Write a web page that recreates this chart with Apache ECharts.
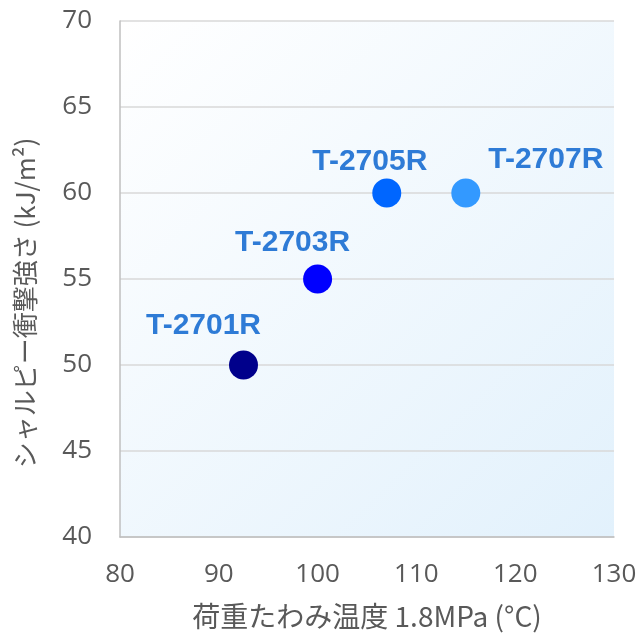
<!DOCTYPE html>
<html>
<head>
<meta charset="utf-8">
<script src="https://cdn.jsdelivr.net/npm/echarts@6/dist/echarts.min.js"></script>
<style>
html,body{margin:0;padding:0;background:#ffffff;}
#chart{width:639px;height:633px;}
</style>
</head>
<body>
<div id="chart"></div>
<script>
// ---- data ----
var gradeNames = ['T-2701R', 'T-2703R', 'T-2705R', 'T-2707R'];
var hdtValues = [92.5, 100, 107, 115];          // 荷重たわみ温度 1.8MPa (°C)
var charpyValues = [50, 55, 60, 60];            // シャルピー衝撃強さ (kJ/m²)
var xTicks = [80, 90, 100, 110, 120, 130];
var yTicks = [40, 45, 50, 55, 60, 65, 70];

// ---- styles (kept separate from data) ----
var pointColors = ['#00008B', '#0000FF', '#0066FF', '#3399FF'];
var labelOffsets = [[-40, -39], [-25, -36], [-17, -31], [80, -33]];

var chart = echarts.init(document.getElementById('chart'));

var seriesData = gradeNames.map(function (n, i) {
  return {
    name: n,
    value: [hdtValues[i], charpyValues[i]],
    itemStyle: { color: pointColors[i], opacity: 1 },
    label: { offset: labelOffsets[i] }
  };
});

var tickFont = '"Open Sans", "Noto Sans", sans-serif';
var cjkFont = '"Noto Sans CJK JP", "Noto Sans", sans-serif';

chart.setOption({
  animation: false,
  backgroundColor: '#ffffff',
  grid: {
    left: 120, top: 21, right: 25, bottom: 96,
    containLabel: false,
    outerBoundsMode: 'none',
    show: true,
    borderWidth: 0,
    backgroundColor: new echarts.graphic.LinearGradient(0, 0, 1, 1, [
      { offset: 0, color: '#ffffff' },
      { offset: 1, color: '#e2f1fc' }
    ])
  },
  xAxis: {
    type: 'value',
    min: xTicks[0], max: xTicks[xTicks.length - 1], interval: 10,
    name: '荷重たわみ温度 1.8MPa (°C)',
    nameLocation: 'middle',
    nameGap: 65,
    nameTextStyle: { fontFamily: cjkFont, fontSize: 28, color: '#595959' },
    axisLine: { show: true, lineStyle: { color: '#bfbfbf', width: 1.5 } },
    axisTick: { show: false },
    splitLine: { show: false },
    axisLabel: { fontFamily: tickFont, fontSize: 26, color: '#595959', margin: 25 }
  },
  yAxis: {
    type: 'value',
    min: yTicks[0], max: yTicks[yTicks.length - 1], interval: 5,
    name: 'シャルピー衝撃強さ (kJ/m²)',
    nameLocation: 'middle',
    nameGap: 82,
    nameTextStyle: { fontFamily: cjkFont, fontSize: 26, color: '#595959', padding: [0, 48, 0, 0] },
    axisLine: { show: true, lineStyle: { color: '#bfbfbf', width: 1.5 } },
    axisTick: { show: false },
    splitLine: { show: true, lineStyle: { color: '#d9d9d9', width: 1.5 } },
    axisLabel: { fontFamily: tickFont, fontSize: 26, color: '#595959', margin: 28 }
  },
  series: [{
    type: 'scatter',
    symbol: 'circle',
    symbolSize: 29,
    data: seriesData,
    itemStyle: { opacity: 1 },
    label: {
      show: true,
      position: 'inside',
      formatter: '{b}',
      fontFamily: '"Liberation Sans", Arial, sans-serif',
      fontWeight: 'bold',
      fontSize: 30,
      color: '#2E7BD6',
      opacity: 1
    },
    emphasis: { disabled: true }
  }]
});
</script>
</body>
</html>
